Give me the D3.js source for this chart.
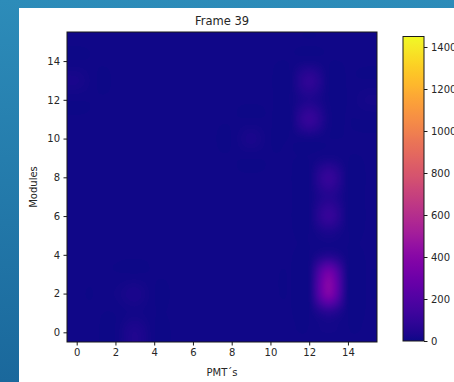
<!DOCTYPE html>
<html>
<head>
<meta charset="utf-8">
<script src="https://cdn.jsdelivr.net/npm/d3@7"></script>
<style>
  html, body { margin: 0; padding: 0; }
  body { width: 454px; height: 382px; overflow: hidden; }
  text { font-family: 'DejaVu Sans', sans-serif; fill: #262626; }
</style>
</head>
<body>
<svg id="chart" width="454" height="382"></svg>
<script>
const title = 'Frame 39'
const xLabel = 'PMT\u00b4s'
const yLabel = 'Modules'
const xTicks = [0, 2, 4, 6, 8, 10, 12, 14]
const yTicks = [0, 2, 4, 6, 8, 10, 12, 14]
const cbTicks = [0, 200, 400, 600, 800, 1000, 1200, 1400]
const vMax = 1450

// counts per module (row 0 at the bottom), one value per PMT 0..15
const module0 = [6, 6, 6, 40, 6, 6, 6, 6, 6, 6, 6, 6, 6, 12, 6, 6]
const module1 = [6, 6, 6, 14, 6, 6, 6, 6, 6, 6, 6, 6, 6, 60, 6, 6]
const module2 = [6, 6, 12, 28, 6, 6, 6, 6, 6, 6, 6, 6, 12, 360, 12, 6]
const module3 = [6, 6, 6, 6, 6, 6, 6, 6, 6, 6, 6, 6, 12, 330, 12, 6]
const module4 = [6, 6, 6, 6, 6, 6, 6, 6, 6, 6, 6, 6, 6, 45, 6, 6]
const module5 = [6, 6, 6, 6, 6, 6, 6, 6, 6, 6, 6, 6, 6, 22, 6, 6]
const module6 = [6, 6, 6, 6, 6, 6, 6, 6, 6, 6, 6, 6, 6, 105, 6, 6]
const module7 = [6, 6, 6, 6, 6, 6, 6, 6, 6, 6, 6, 6, 6, 55, 6, 6]
const module8 = [6, 6, 6, 6, 6, 6, 6, 6, 6, 6, 6, 6, 6, 105, 6, 6]
const module9 = [6, 6, 6, 6, 6, 6, 6, 6, 6, 6, 6, 6, 6, 18, 6, 6]
const module10 = [6, 6, 6, 6, 6, 6, 6, 6, 6, 26, 6, 6, 12, 6, 6, 6]
const module11 = [6, 6, 6, 6, 6, 6, 6, 6, 6, 6, 6, 6, 105, 12, 6, 6]
const module12 = [6, 6, 6, 6, 6, 6, 6, 6, 6, 6, 6, 6, 40, 6, 6, 18]
const module13 = [24, 6, 6, 6, 6, 6, 6, 6, 6, 6, 6, 6, 85, 6, 6, 6]
const module14 = [6, 6, 6, 6, 6, 6, 6, 6, 6, 6, 6, 6, 12, 6, 6, 6]
const module15 = [6, 6, 6, 6, 6, 6, 6, 6, 6, 6, 6, 6, 6, 6, 6, 6]

const grid = [module0, module1, module2, module3, module4, module5, module6, module7,
  module8, module9, module10, module11, module12, module13, module14, module15]

const margin = { left: 67, top: 32 }
const size = 310
const svg = d3.select('#chart')

// blue frame behind the figure
const bg = svg.append('defs').append('linearGradient')
  .attr('id', 'frame').attr('x1', 0).attr('y1', 0).attr('x2', 0).attr('y2', 1)
bg.append('stop').attr('offset', 0).attr('stop-color', '#2d8cb9')
bg.append('stop').attr('offset', 1).attr('stop-color', '#1a689c')
svg.append('rect').attr('width', 454).attr('height', 382).attr('fill', 'url(#frame)')
svg.append('rect').attr('x', 19).attr('y', 8).attr('width', 435).attr('height', 374).attr('fill', '#fff')

const x = d3.scaleLinear().domain([-0.5, 15.5]).range([margin.left, margin.left + size])
const y = d3.scaleLinear().domain([-0.5, 15.5]).range([margin.top + size, margin.top])
const color = d3.scaleSequential(d3.interpolatePlasma).domain([0, vMax])

// bicubic interpolation of the grid, like imshow(interpolation='bicubic')
function cubic(t) {
  const a = -0.5
  t = Math.abs(t)
  if (t <= 1) return (a + 2) * t * t * t - (a + 3) * t * t + 1
  if (t < 2) return a * t * t * t - 5 * a * t * t + 8 * a * t - 4 * a
  return 0
}
function sample(cx, cy) {
  const ix = Math.floor(cx), iy = Math.floor(cy)
  let v = 0
  for (let j = -1; j <= 2; j++) {
    const wy = cubic(cy - (iy + j))
    const r = grid[Math.max(0, Math.min(15, iy + j))]
    for (let i = -1; i <= 2; i++) {
      v += wy * cubic(cx - (ix + i)) * r[Math.max(0, Math.min(15, ix + i))]
    }
  }
  return Math.max(0, v)
}

const canvas = document.createElement('canvas')
canvas.width = size
canvas.height = size
const ctx = canvas.getContext('2d')
const img = ctx.createImageData(size, size)
for (let py = 0; py < size; py++) {
  const cy = y.invert(margin.top + py + 0.5)
  for (let px = 0; px < size; px++) {
    const cx = x.invert(margin.left + px + 0.5)
    const c = d3.rgb(color(sample(cx, cy)))
    const k = (py * size + px) * 4
    img.data[k] = c.r
    img.data[k + 1] = c.g
    img.data[k + 2] = c.b
    img.data[k + 3] = 255
  }
}
ctx.putImageData(img, 0, 0)

svg.append('image')
  .attr('x', margin.left).attr('y', margin.top)
  .attr('width', size).attr('height', size)
  .attr('href', canvas.toDataURL())

svg.append('rect')
  .attr('x', margin.left).attr('y', margin.top)
  .attr('width', size).attr('height', size)
  .attr('fill', 'none').attr('stroke', '#1a1a1a').attr('stroke-width', 1)

// axes
const xAxis = svg.append('g')
  .attr('transform', `translate(0,${margin.top + size})`)
  .call(d3.axisBottom(x).tickValues(xTicks).tickSize(3.5).tickPadding(3.5))
const yAxis = svg.append('g')
  .attr('transform', `translate(${margin.left},0)`)
  .call(d3.axisLeft(y).tickValues(yTicks).tickSize(3.5).tickPadding(3.5))
;[xAxis, yAxis].forEach((a) => {
  a.select('.domain').remove()
  a.selectAll('.tick line').attr('stroke', '#1a1a1a')
  a.selectAll('.tick text').style('font-size', '10px').attr('fill', '#262626')
})

svg.append('text')
  .attr('x', margin.left + size / 2).attr('y', 25)
  .attr('text-anchor', 'middle').style('font-size', '11.5px')
  .text(title)
svg.append('text')
  .attr('x', margin.left + size / 2).attr('y', 376)
  .attr('text-anchor', 'middle').style('font-size', '10px')
  .text(xLabel)
svg.append('text')
  .attr('transform', `translate(37,${margin.top + size / 2}) rotate(-90)`)
  .attr('text-anchor', 'middle').style('font-size', '10px')
  .text(yLabel)

// colorbar
const cb = { x: 403, y: 36.5, w: 21, h: 304.5 }
const cbScale = d3.scaleLinear().domain([0, vMax]).range([cb.y + cb.h, cb.y])
const grad = svg.select('defs').append('linearGradient')
  .attr('id', 'cbgrad').attr('x1', 0).attr('y1', 1).attr('x2', 0).attr('y2', 0)
grad.selectAll('stop')
  .data(d3.range(0, 1.0001, 0.02))
  .enter()
  .append('stop')
  .attr('offset', (d) => d)
  .attr('stop-color', (d) => color(d * vMax))
svg.append('rect')
  .attr('x', cb.x).attr('y', cb.y).attr('width', cb.w).attr('height', cb.h)
  .attr('fill', 'url(#cbgrad)').attr('stroke', '#1a1a1a').attr('stroke-width', 1)
const cbAxis = svg.append('g')
  .attr('transform', `translate(${cb.x + cb.w},0)`)
  .call(d3.axisRight(cbScale).tickValues(cbTicks).tickFormat(d3.format('d')).tickSize(3.5).tickPadding(3.5))
cbAxis.select('.domain').remove()
cbAxis.selectAll('.tick line').attr('stroke', '#1a1a1a')
cbAxis.selectAll('.tick text').style('font-size', '10px').attr('fill', '#262626')
</script>
</body>
</html>
